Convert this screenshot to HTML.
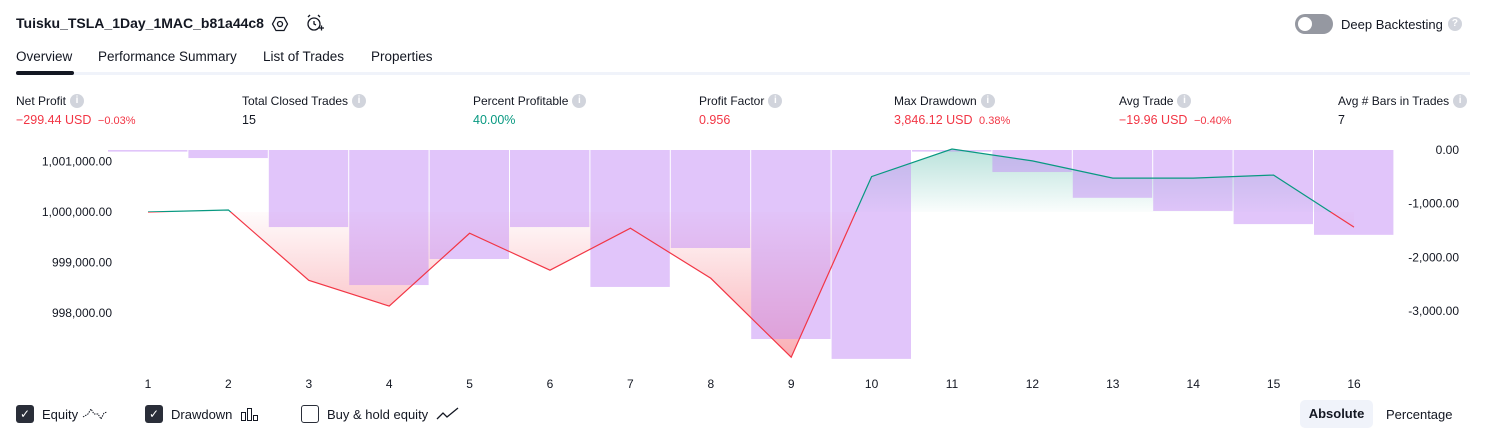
<!DOCTYPE html>
<html><head><meta charset="utf-8"><style>
*{box-sizing:border-box;margin:0;padding:0}
body{width:1486px;height:438px;background:#fff;font-family:"Liberation Sans",sans-serif;color:#131722;position:relative;overflow:hidden;font-size:13px}
.abs{position:absolute;white-space:nowrap}
.lbl{font-size:12px;color:#131722;display:flex;align-items:center;height:16px}
.info{display:inline-block;width:14px;height:14px;border-radius:50%;background:#d1d4dc;color:#fff;font-size:10px;text-align:center;line-height:14px;font-weight:bold;margin-left:4px}
.val{font-size:12.5px}
.red{color:#f23645}.green{color:#089981}
.leg{display:flex;align-items:center;height:20px}
.cb{display:inline-block;width:18px;height:18px;border-radius:3px;margin-right:8px}
</style></head><body>
<div class="abs" style="left:16px;top:15px;font-weight:bold;font-size:14px">Tuisku_TSLA_1Day_1MAC_b81a44c8</div>
<svg class="abs" style="left:271px;top:15px" width="18" height="18" viewBox="0 0 18 18"><polygon points="5,2.5 13,2.5 16.5,9 13,15.5 5,15.5 1.5,9" fill="none" stroke="#131722" stroke-width="1.3"/><circle cx="9" cy="9" r="2.5" fill="none" stroke="#131722" stroke-width="1.3"/></svg>
<svg class="abs" style="left:305px;top:13px" width="20" height="20" viewBox="0 0 20 20"><circle cx="9" cy="11" r="6" fill="none" stroke="#131722" stroke-width="1.3"/><path d="M9 8v3l2 1M3 4l2-2M15 4l-2-2M14 15h5M16.5 12.5v5" stroke="#131722" stroke-width="1.3" fill="none"/></svg>
<div class="abs" style="left:1295px;top:14px;width:38px;height:20px;border-radius:10px;background:#9598a1"><div style="position:absolute;left:3px;top:3px;width:14px;height:14px;border-radius:50%;background:#fff"></div></div>
<div class="abs lbl" style="left:1341px;top:16px;font-size:13px">Deep Backtesting<span class="info" style="margin-left:5px">?</span></div>
<div class="abs" style="left:16px;top:49px;font-size:13.5px">Overview</div>
<div class="abs" style="left:98px;top:49px;font-size:13.5px">Performance Summary</div>
<div class="abs" style="left:263px;top:49px;font-size:13.5px">List of Trades</div>
<div class="abs" style="left:371px;top:49px;font-size:13.5px">Properties</div>
<div class="abs" style="left:16px;top:72px;width:1454px;height:3px;background:#f0f3fa"></div>
<div class="abs" style="left:16px;top:71px;width:58px;height:4px;border-radius:2px;background:#131722"></div>

<div class="abs" style="left:16px;top:93px"><div class="lbl">Net Profit<span class="info">i</span></div><div class="val red" style="margin-top:4px">−299.44 USD <span style="font-size:11px">&nbsp;−0.03%</span></div></div>
<div class="abs" style="left:242px;top:93px"><div class="lbl">Total Closed Trades<span class="info">i</span></div><div class="val" style="margin-top:4px">15</div></div>
<div class="abs" style="left:473px;top:93px"><div class="lbl">Percent Profitable<span class="info">i</span></div><div class="val green" style="margin-top:4px">40.00%</div></div>
<div class="abs" style="left:699px;top:93px"><div class="lbl">Profit Factor<span class="info">i</span></div><div class="val red" style="margin-top:4px">0.956</div></div>
<div class="abs" style="left:894px;top:93px"><div class="lbl">Max Drawdown<span class="info">i</span></div><div class="val red" style="margin-top:4px">3,846.12 USD <span style="font-size:11px">&nbsp;0.38%</span></div></div>
<div class="abs" style="left:1119px;top:93px"><div class="lbl">Avg Trade<span class="info">i</span></div><div class="val red" style="margin-top:4px">−19.96 USD <span style="font-size:11px">&nbsp;−0.40%</span></div></div>
<div class="abs" style="left:1338px;top:93px"><div class="lbl">Avg # Bars in Trades<span class="info">i</span></div><div class="val" style="margin-top:4px">7</div></div>

<svg id="chart" class="abs" style="left:0;top:140px" width="1486" height="260" viewBox="0 140 1486 260"></svg>

<div class="abs leg" style="left:16px;top:404px"><span class="cb" style="background:#2a2e39;color:#fff;font-size:12px;text-align:center;line-height:18px">✓</span>Equity&nbsp;<svg width="26" height="14"><path d="M1 10 L6 7 L9 2 L12 7 L16 7 L19 12 L22 6 L25 5" stroke="#131722" stroke-dasharray="1.5 1" fill="none"/></svg></div>
<div class="abs leg" style="left:145px;top:404px"><span class="cb" style="background:#2a2e39;color:#fff;font-size:12px;text-align:center;line-height:18px">✓</span>Drawdown <svg width="20" height="14" style="margin-left:8px"><rect x="1.5" y="5.5" width="4" height="8" fill="none" stroke="#131722"/><rect x="7.5" y="1.5" width="4" height="12" fill="none" stroke="#131722"/><rect x="13.5" y="8.5" width="4" height="5" fill="none" stroke="#131722"/></svg></div>
<div class="abs leg" style="left:301px;top:404px"><span class="cb" style="border:1.3px solid #2a2e39"></span>Buy &amp; hold equity <svg width="24" height="14" style="margin-left:8px"><path d="M1 12 L7 6 L11 10 L22 1" stroke="#131722" stroke-width="1.3" fill="none"/></svg></div>
<div class="abs" style="left:1300px;top:400px;width:73px;height:28px;border-radius:5px;background:#f0f3fa;font-weight:bold;text-align:center;line-height:28px">Absolute</div>
<div class="abs" style="left:1386px;top:407px">Percentage</div>

<script>
const categories=[1,2,3,4,5,6,7,8,9,10,11,12,13,14,15,16];
const equity=[1000000,1000040,998650,998140,999580,998850,999680,998690,997130,1000700,1001245,1001010,1000670,1000670,1000730,999700.56];
const drawdown=[-30,-150,-1435,-2515,-2030,-1435,-2550,-1825,-3520,-3890,-30,-410,-890,-1135,-1380,-1580];
const leftTicks=[1001000,1000000,999000,998000];
const rightTicks=[0,-1000,-2000,-3000];
const NS="http://www.w3.org/2000/svg";
const svg=document.getElementById('chart');
const x=i=>148+(i-1)*80.4;
const yL=v=>212-(v-1000000)*0.0506;
const yR=v=>150-v*0.0537;
function mk(t,a){const e=document.createElementNS(NS,t);for(const k in a)e.setAttribute(k,a[k]);svg.appendChild(e);return e;}
const defs=mk('defs',{});
const base=yL(1000000);
const topY=yL(Math.max(...equity)), botY=yL(Math.min(...equity));
defs.innerHTML='<linearGradient id="gr" gradientUnits="userSpaceOnUse" x1="0" y1="'+base+'" x2="0" y2="'+botY+'"><stop offset="0" stop-color="#f23645" stop-opacity="0.02"/><stop offset="1" stop-color="#f23645" stop-opacity="0.4"/></linearGradient><linearGradient id="gg" gradientUnits="userSpaceOnUse" x1="0" y1="'+topY+'" x2="0" y2="'+base+'"><stop offset="0" stop-color="#089981" stop-opacity="0.28"/><stop offset="1" stop-color="#089981" stop-opacity="0.02"/></linearGradient><clipPath id="above"><rect x="0" y="0" width="1486" height="'+base+'"/></clipPath><clipPath id="below"><rect x="0" y="'+base+'" width="1486" height="400"/></clipPath>';
let pts=categories.map((c,i)=>x(c)+','+yL(equity[i])).join(' ');
const areaPts=x(1)+','+base+' '+pts+' '+x(16)+','+base;
const ga=mk('polygon',{points:areaPts,fill:'url(#gg)','clip-path':'url(#above)'});


const ra=mk('polygon',{points:areaPts,fill:'url(#gr)','clip-path':'url(#below)'});


drawdown.forEach((d,i)=>{
  const c=categories[i];
  const r=mk('rect',{x:x(c)-40,y:150,width:79.4,height:Math.max(1.5,yR(d)-150),fill:'#c38bf5','fill-opacity':0.5});
  
  
});
const gl=mk('polyline',{points:pts,fill:'none',stroke:'#089981','stroke-width':1.2,'clip-path':'url(#above)'});


const rl=mk('polyline',{points:pts,fill:'none',stroke:'#f23645','stroke-width':1.2,'clip-path':'url(#below)'});


leftTicks.forEach(v=>{const t=mk('text',{x:112,y:yL(v)+4,'text-anchor':'end','font-size':12,fill:'#131722'});t.textContent=v.toLocaleString('en-US',{minimumFractionDigits:2});

});
rightTicks.forEach(v=>{const t=mk('text',{x:1459,y:yR(v)+4,'text-anchor':'end','font-size':12,fill:'#131722'});t.textContent=(v<0?'-':'')+Math.abs(v).toLocaleString('en-US',{minimumFractionDigits:2});

});
categories.forEach(c=>{const t=mk('text',{x:x(c),y:388,'text-anchor':'middle','font-size':12,fill:'#131722'});t.textContent=c;

});
</script>
</body></html>
